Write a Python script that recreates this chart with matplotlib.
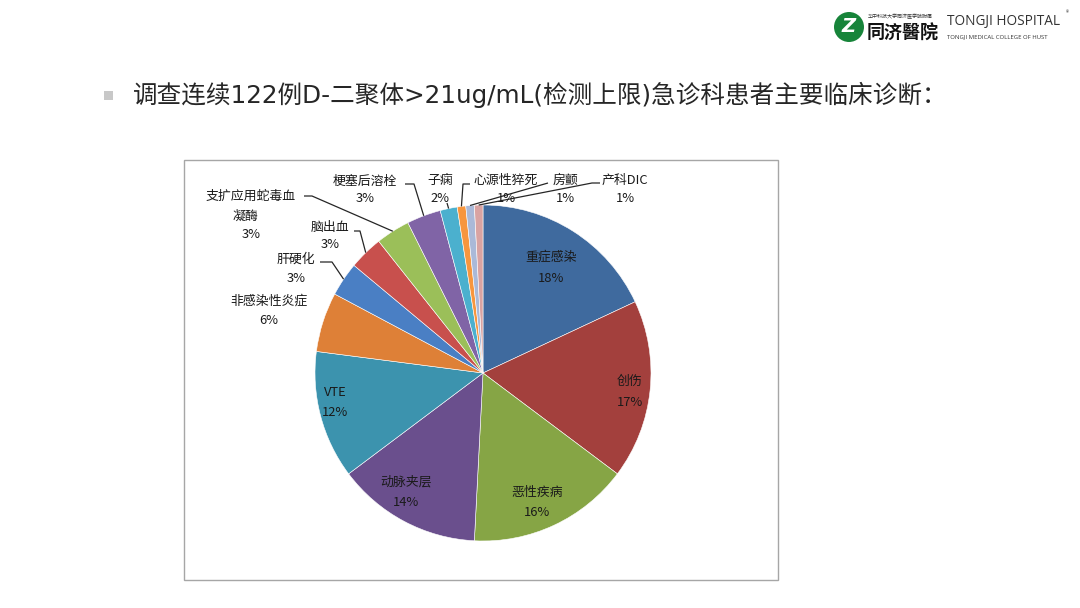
import numpy as np
import matplotlib
matplotlib.use('Agg')
import matplotlib.pyplot as plt
from matplotlib.patches import Rectangle, Circle

plt.rcParams['font.family'] = ['Noto Sans CJK SC', 'DejaVu Sans']

# case counts out of 122 patients
categories = ['重症感染', '创伤', '恶性疾病', '动脉夹层', 'VTE', '非感染性炎症',
              '肝硬化', '脑出血', '支扩应用蛇毒血\n凝酶', '梗塞后溶栓', '子痫',
              '心源性猝死', '房颤', '产科DIC']
counts = [22, 21, 19, 17, 15, 7, 4, 4, 4, 4, 2, 1, 1, 1]
colors = ['#3F6A9E', '#A3403D', '#86A545', '#6A4F8D', '#3C93AE', '#DE8037',
          '#4A7FC4', '#C8504D', '#9BBF59', '#8064A6', '#4BB0CE', '#F7963E',
          '#AAB9D8', '#D9A3A2']

title = '调查连续122例D-二聚体>21ug/mL(检测上限)急诊科患者主要临床诊断：'

W, H = 1080, 608
fig = plt.figure(figsize=(W / 100, H / 100), dpi=100)
ax = fig.add_axes([0, 0, 1, 1])


def Y(y):
    # pixel row (from top) -> data y
    return H - y


# pie
cx, cy, R = 483, Y(373), 168
ax.pie(counts, colors=colors, startangle=90, counterclock=False,
       center=(cx, cy), radius=R, frame=True,
       wedgeprops=dict(edgecolor='white', linewidth=0.4))
ax.set_xlim(0, W)
ax.set_ylim(0, H)
ax.set_aspect('equal')
ax.axis('off')

# title with square bullet
ax.add_patch(Rectangle((104, Y(100)), 9, 9, color='#C8C8C8', lw=0))
ax.text(133, Y(95), title, fontsize=17.7, color='#262626', va='center', ha='left',
        family=['DejaVu Sans', 'Noto Sans CJK SC'])

# logo
ax.add_patch(Circle((849, Y(27)), 15, color='#17843A', lw=0))
ax.text(849, Y(27), 'Z', fontsize=14, color='white', fontweight='bold',
        style='italic', ha='center', va='center', family='DejaVu Sans')
ax.text(868, Y(17), '华中科技大学同济医学院附属', fontsize=3.6, color='#333333',
        ha='left', va='center')
ax.text(867, Y(33), '同济醫院', fontsize=13, color='#111111', fontweight='bold',
        ha='left', va='center')
ax.text(947, Y(22), 'TONGJI HOSPITAL', fontsize=9.8, color='#333333',
        ha='left', va='center', family='Open Sans')
ax.text(1066, Y(13), '®', fontsize=4.5, color='#333333', ha='left', va='center')
ax.text(947, Y(37), 'TONGJI MEDICAL COLLEGE OF HUST', fontsize=4.3, color='#333333',
        ha='left', va='center', family='Open Sans')

# chart frame
ax.add_patch(Rectangle((184, Y(580)), 594, 420, fill=False, ec='#A6A6A6', lw=1))

total = sum(counts)
pcts = [f'{round(c / total * 100)}%' for c in counts]
cum = np.concatenate([[0], np.cumsum(counts)[:-1]])
mid = np.deg2rad(90 - 360 * (cum + np.array(counts) / 2) / total)

# inside labels for the big slices: (index, x, y of name)
inside = [(0, 551, 257), (1, 630, 381), (2, 537, 492), (3, 406, 482), (4, 335, 392)]
for i, x, y in inside:
    ax.text(x, Y(y), categories[i], fontsize=9.3, color='#1A1A1A', ha='center', va='center')
    ax.text(x, Y(y + 21), pcts[i], fontsize=9.3, color='#1A1A1A', ha='center', va='center')

# outside labels: (index, name x, name y, pct y, leader waypoints)
outside = [
    (5, 269, 301, 321, []),
    (6, 296, 259, 278, [(332, 262), (320, 262)]),
    (7, 330, 227, 245, [(360, 231), (354, 231)]),
    (8, 251, 196, 234, [(312, 196), (304, 196)]),
    (9, 365, 181, 199, [(414, 184), (405, 184)]),
    (10, 440, 180, 198, [(447, 203)]),
    (11, 506, 180, 198, [(463, 184), (470, 184)]),
    (12, 565, 180, 198, [(548, 183)]),
    (13, 625, 180, 198, [(592, 183), (600, 183)]),
]
for i, x, y, py, pts in outside:
    name = categories[i]
    if '\n' in name:
        first, second = name.split('\n')
        ax.text(x, Y(y), first, fontsize=9.3, color='#1A1A1A', ha='center', va='center')
        ax.text(x - 6, Y(y + 20), second, fontsize=9.3, color='#1A1A1A', ha='center', va='center')
    else:
        ax.text(x, Y(y), name, fontsize=9.3, color='#1A1A1A', ha='center', va='center')
    ax.text(x, Y(py), pcts[i], fontsize=9.3, color='#1A1A1A', ha='center', va='center')
    if pts:
        ex = cx + R * np.cos(mid[i])
        ey = cy + R * np.sin(mid[i])
        xs = [ex] + [p[0] for p in pts]
        ys = [ey] + [Y(p[1]) for p in pts]
        ax.plot(xs, ys, color='#262626', lw=0.9, solid_capstyle='butt')

fig.savefig('out.png', dpi=100, facecolor='white')
